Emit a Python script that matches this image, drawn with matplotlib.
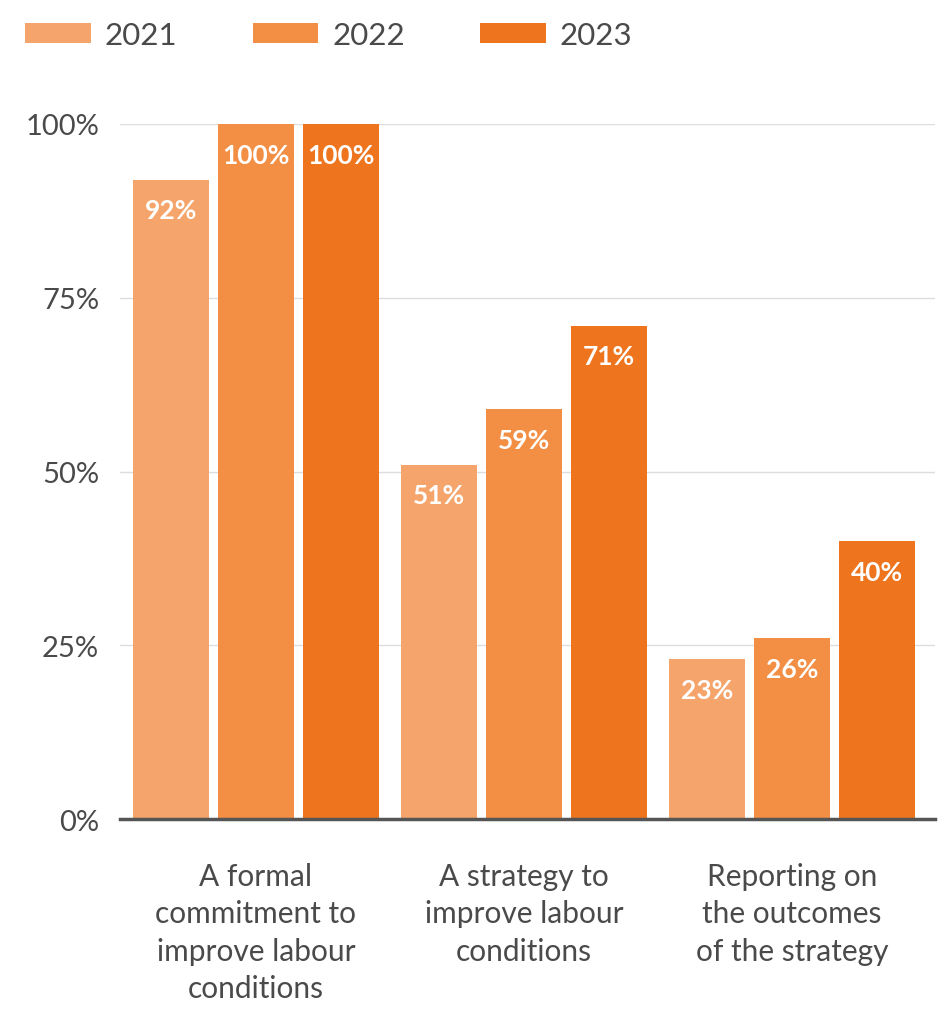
"""Grouped bar chart: labour-condition commitments by year."""

import matplotlib

matplotlib.use("Agg")
import matplotlib.pyplot as plt
import numpy as np

categories = [
    "A formal\ncommitment to\nimprove labour\nconditions",
    "A strategy to\nimprove labour\nconditions",
    "Reporting on\nthe outcomes\nof the strategy",
]
years = ["2021", "2022", "2023"]
values_2021 = [92, 51, 23]
values_2022 = [100, 59, 26]
values_2023 = [100, 71, 40]
yticks = [0, 25, 50, 75, 100]

COLORS = ["#F5A56B", "#F38F45", "#EE741D"]
TEXT = "#4a4a4a"

plt.rcParams["font.family"] = ["Lato", "DejaVu Sans"]

fig = plt.figure(figsize=(9.41, 10.2), dpi=100)
ax = fig.add_axes([0.1275, 0.196, 0.866, 0.6815])

x = np.arange(len(categories))
step = 0.317
width = 0.284
series = [values_2021, values_2022, values_2023]

for i, (year, vals) in enumerate(zip(years, series)):
    bars = ax.bar(x + (i - 1) * step, vals, width, color=COLORS[i],
                  label=year, zorder=2)
    for b, v in zip(bars, vals):
        ax.annotate(f"{v}%", (b.get_x() + b.get_width() / 2, v),
                    xytext=(0, -22), textcoords="offset points",
                    ha="center", va="center", color="white",
                    fontsize=19, fontweight="bold", zorder=3)

ax.set_xlim(-0.507, 2.534)
ax.set_ylim(0, 100)
ax.set_yticks(yticks)
ax.set_yticklabels([f"{t}%" for t in yticks], fontsize=21, color=TEXT)
ax.yaxis.grid(True, color="#dddddd", linewidth=1, zorder=0)
ax.tick_params(axis="y", length=0, pad=15)
ax.set_xticks(x)
ax.set_xticklabels(categories, fontsize=21.5, color=TEXT, linespacing=1.4)
ax.tick_params(axis="x", length=0, pad=31)
for side in ["top", "right", "left"]:
    ax.spines[side].set_visible(False)
ax.spines["bottom"].set_color("#555555")
ax.spines["bottom"].set_linewidth(2.5)
ax.spines["bottom"].set_zorder(4)

fig.legend(loc="upper left", bbox_to_anchor=(-0.003, 1.006), ncol=3,
           frameon=False, fontsize=22.5, handlelength=2.1, handleheight=0.65,
           handletextpad=0.45, columnspacing=2.4, labelcolor=TEXT)

fig.savefig("out.png", dpi=100, facecolor="white")
plt.close(fig)
